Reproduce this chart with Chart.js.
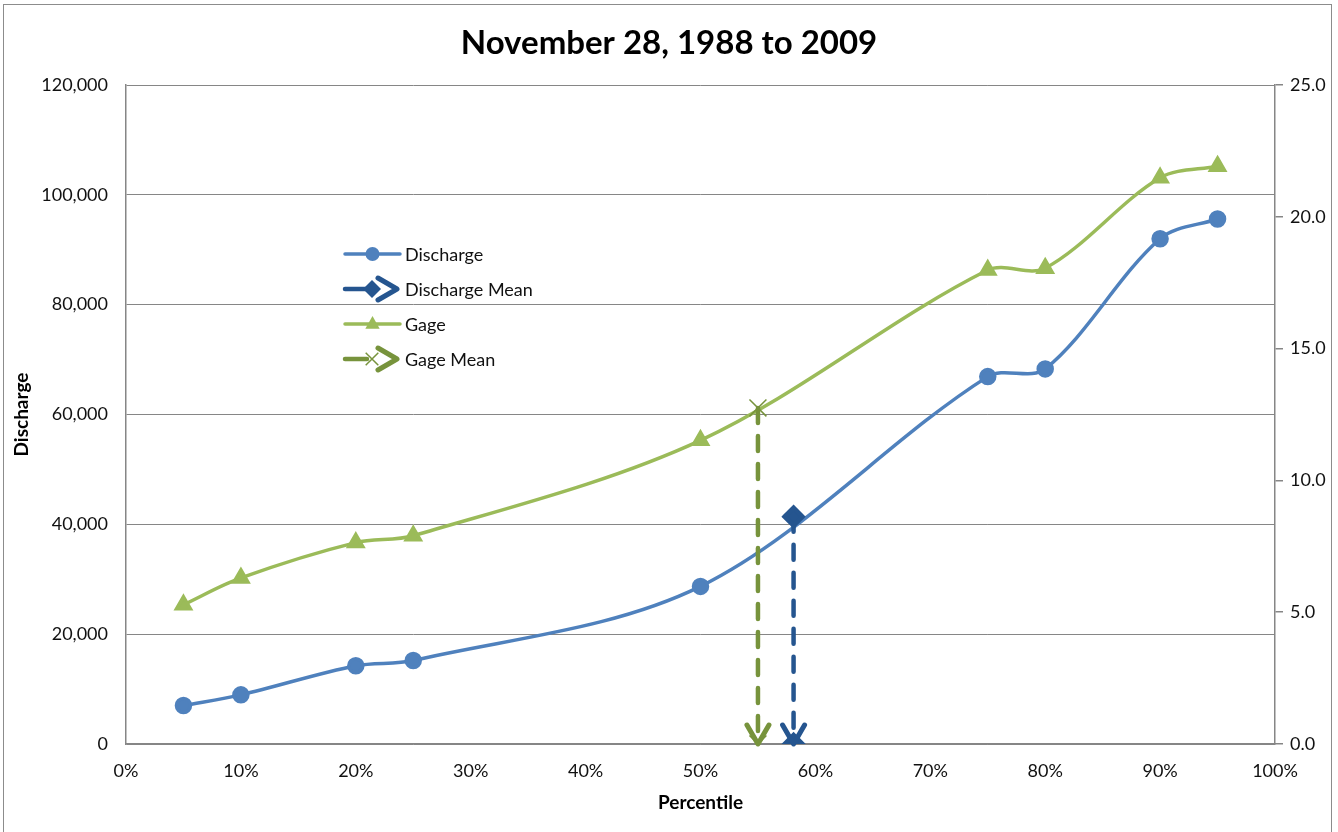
<!DOCTYPE html>
<html>
<head>
<meta charset="utf-8">
<script src="https://cdn.jsdelivr.net/npm/chart.js@4/dist/chart.umd.min.js"></script>
<style>
  html, body { margin: 0; padding: 0; background: #fff; }
  #wrap { width: 1338px; height: 832px; }
</style>
</head>
<body>
<div id="wrap"><canvas id="chart" width="1338" height="832"></canvas></div>
<script>
// Flow-duration values for November 28 (1988–2009)
const percentiles = [5, 10, 20, 25, 50, 75, 80, 90, 95];
const discharge   = [7000, 8950, 14250, 15200, 28700, 66900, 68300, 92000, 95600];
const gage        = [5.28, 6.30, 7.64, 7.90, 11.52, 17.98, 18.05, 21.48, 21.92];

// Means shown as vertical drop lines at their percentile
const dischargeMeanPct = 58.1;
const dischargeMean    = 41400;
const gageMeanPct      = 55.0;
const gageMean         = 12.75;

// Axis ranges and tick steps
const xTicks         = [0, 10, 20, 30, 40, 50, 60, 70, 80, 90, 100];
const dischargeTicks = [0, 20000, 40000, 60000, 80000, 100000, 120000];
const gageTicks      = [0, 5, 10, 15, 20, 25];

const FONT = 'Lato, "Open Sans", "Liberation Sans", sans-serif';
const GRID = '#868686';

const C_DIS  = '#4F81BD';
const C_DISM = '#25558F';
const C_GAGE = '#9BBB59';
const C_GAGM = '#77933C';

const toXY = (xs, ys) => xs.map((x, i) => ({ x, y: ys[i] }));

// Open chevron at the end of a drop line, pointing along the last segment
function drawChevron(ctx, tipX, tipY, dirX, dirY, color) {
  const len = 19, half = 11;
  const bx = tipX - dirX * len, by = tipY - dirY * len;
  const nx = -dirY, ny = dirX;
  ctx.save();
  ctx.strokeStyle = color;
  ctx.lineWidth = 5;
  ctx.lineCap = 'round';
  ctx.lineJoin = 'round';
  ctx.setLineDash([]);
  ctx.beginPath();
  ctx.moveTo(bx + nx * half, by + ny * half);
  ctx.lineTo(tipX, tipY);
  ctx.lineTo(bx - nx * half, by - ny * half);
  ctx.stroke();
  ctx.restore();
}

function drawMarker(ctx, style, x, y, r, color) {
  ctx.save();
  ctx.fillStyle = color;
  ctx.strokeStyle = color;
  ctx.lineWidth = 1.5;
  ctx.setLineDash([]);
  ctx.beginPath();
  if (style === 'circle') {
    ctx.arc(x, y, r, 0, Math.PI * 2);
    ctx.fill();
  } else if (style === 'rectRot') {
    ctx.moveTo(x, y - r); ctx.lineTo(x + r, y); ctx.lineTo(x, y + r); ctx.lineTo(x - r, y);
    ctx.closePath(); ctx.fill();
  } else if (style === 'triangle') {
    ctx.moveTo(x, y - r); ctx.lineTo(x + r * 0.9, y + r * 0.6); ctx.lineTo(x - r * 0.9, y + r * 0.6);
    ctx.closePath(); ctx.fill();
  } else if (style === 'crossRot') {
    const d = r * 0.7;
    ctx.moveTo(x - d, y - d); ctx.lineTo(x + d, y + d);
    ctx.moveTo(x + d, y - d); ctx.lineTo(x - d, y + d);
    ctx.stroke();
  }
  ctx.restore();
}

const frame = {
  id: 'frame',
  beforeDraw(chart) {
    const ctx = chart.ctx;
    ctx.save();
    ctx.fillStyle = '#fff';
    ctx.fillRect(0, 0, chart.width, chart.height);
    ctx.strokeStyle = '#8c8c8c';
    ctx.lineWidth = 1;
    ctx.strokeRect(3.5, 4.5, 1328, 860);
    ctx.restore();
  }
};

const arrowEnds = {
  id: 'arrowEnds',
  afterDatasetsDraw(chart) {
    chart.data.datasets.forEach((ds, i) => {
      if (!ds.arrowEnd) return;
      const pts = chart.getDatasetMeta(i).data;
      if (pts.length < 2) return;
      const a = pts[pts.length - 2], b = pts[pts.length - 1];
      const dx = b.x - a.x, dy = b.y - a.y;
      const L = Math.hypot(dx, dy) || 1;
      drawChevron(chart.ctx, b.x, b.y, dx / L, dy / L, ds.borderColor);
    });
  }
};

const inlineLegend = {
  id: 'inlineLegend',
  afterDraw(chart) {
    const ctx = chart.ctx;
    const x0 = 345, x1 = 400, tx = 405;
    const rows = [254, 289, 324, 359];
    chart.data.datasets.forEach((ds, i) => {
      const y = rows[i];
      ctx.save();
      ctx.strokeStyle = ds.borderColor;
      ctx.lineWidth = ds.arrowEnd ? 4.5 : 3.5;
      ctx.lineCap = 'round';
      ctx.beginPath();
      if (ds.arrowEnd) {
        ctx.moveTo(x0, y); ctx.lineTo(x0 + 22, y);
      } else {
        ctx.moveTo(x0, y); ctx.lineTo(x1, y);
      }
      ctx.stroke();
      ctx.restore();
      const mx = ds.arrowEnd ? 372 : (x0 + x1) / 2;
      const r = ds.pointStyle === 'crossRot' ? 9 : ds.pointRadius;
      drawMarker(ctx, ds.pointStyle, mx, y, r, ds.pointBackgroundColor);
      if (ds.arrowEnd) drawChevron(ctx, x1 - 3, y, 1, 0, ds.borderColor);
      ctx.save();
      ctx.fillStyle = '#111';
      ctx.font = '18px ' + FONT;
      ctx.textBaseline = 'middle';
      ctx.textAlign = 'left';
      ctx.fillText(ds.label, tx, y + 1);
      ctx.restore();
    });
  }
};

new Chart(document.getElementById('chart'), {
  type: 'line',
  data: {
    datasets: [
      {
        label: 'Discharge',
        data: toXY(percentiles, discharge),
        yAxisID: 'yQ',
        borderColor: C_DIS,
        backgroundColor: C_DIS,
        borderWidth: 3.5,
        tension: 0.33,
        pointStyle: 'circle',
        pointRadius: 7,
        pointBackgroundColor: C_DIS,
        pointBorderColor: C_DIS,
        order: 4
      },
      {
        label: 'Discharge Mean',
        data: toXY([dischargeMeanPct, dischargeMeanPct], [dischargeMean, 0]),
        yAxisID: 'yQ',
        borderColor: C_DISM,
        backgroundColor: C_DISM,
        borderWidth: 4.5,
        borderDash: [15, 13],
        borderCapStyle: 'round',
        pointStyle: 'rectRot',
        pointRadius: 9,
        pointBackgroundColor: C_DISM,
        pointBorderColor: C_DISM,
        arrowEnd: true,
        order: 3
      },
      {
        label: 'Gage',
        data: toXY(percentiles, gage),
        yAxisID: 'yG',
        borderColor: C_GAGE,
        backgroundColor: C_GAGE,
        borderWidth: 3.5,
        tension: 0.33,
        pointStyle: 'triangle',
        pointRadius: 8,
        pointBackgroundColor: C_GAGE,
        pointBorderColor: C_GAGE,
        order: 2
      },
      {
        label: 'Gage Mean',
        data: toXY([gageMeanPct, gageMeanPct], [gageMean, 0]),
        yAxisID: 'yG',
        borderColor: C_GAGM,
        backgroundColor: C_GAGM,
        borderWidth: 4.5,
        borderDash: [15, 13],
        borderCapStyle: 'round',
        pointStyle: 'crossRot',
        pointRadius: 12,
        pointBorderWidth: 1.5,
        pointBackgroundColor: C_GAGM,
        pointBorderColor: C_GAGM,
        arrowEnd: true,
        order: 1
      }
    ]
  },
  options: {
    responsive: false,
    devicePixelRatio: 1,
    animation: false,
    layout: { padding: 0 },
    plugins: {
      legend: { display: false },
      tooltip: { enabled: false },
      title: {
        display: true,
        text: 'November 28, 1988 to 2009',
        color: '#000',
        font: { family: FONT, size: 33, weight: 'bold', lineHeight: 1.2 },
        padding: { top: 24, bottom: 21.4 }
      }
    },
    scales: {
      x: {
        type: 'linear',
        min: xTicks[0],
        max: xTicks[xTicks.length - 1],
        afterFit(s) { s.height = 88; },
        afterBuildTicks(s) { s.ticks = xTicks.map(v => ({ value: v })); },
        ticks: {
          color: '#111',
          font: { family: FONT, size: 18 },
          padding: 16,
          maxRotation: 0,
          callback: v => v + '%'
        },
        grid: { display: false, drawTicks: false },
        border: { display: true, color: GRID, width: 1.5 },
        title: {
          display: true,
          text: 'Percentile',
          color: '#000',
          font: { family: FONT, size: 19, weight: 'bold', lineHeight: 1.2 },
          padding: { top: 0, bottom: 17.5 }
        }
      },
      yQ: {
        type: 'linear',
        position: 'left',
        min: dischargeTicks[0],
        max: dischargeTicks[dischargeTicks.length - 1],
        afterFit(s) { s.width = 126; },
        afterBuildTicks(s) { s.ticks = dischargeTicks.map(v => ({ value: v })); },
        ticks: {
          color: '#111',
          font: { family: FONT, size: 18 },
          padding: 18,
          callback: v => v.toLocaleString('en-US')
        },
        grid: { color: GRID, lineWidth: 1, drawTicks: false },
        border: { display: true, color: GRID, width: 1.5 },
        title: {
          display: true,
          text: 'Discharge',
          color: '#000',
          font: { family: FONT, size: 19, weight: 'bold', lineHeight: 1.2 },
          padding: { top: 10.5, bottom: 0 }
        }
      },
      yG: {
        type: 'linear',
        position: 'right',
        min: gageTicks[0],
        max: gageTicks[gageTicks.length - 1],
        afterFit(s) { s.width = 63; },
        afterBuildTicks(s) { s.ticks = gageTicks.map(v => ({ value: v })); },
        ticks: {
          color: '#111',
          font: { family: FONT, size: 18 },
          padding: 7,
          callback: v => v.toFixed(1)
        },
        grid: { drawOnChartArea: false, drawTicks: true, tickLength: 8, color: GRID, lineWidth: 1.5 },
        border: { display: true, color: GRID, width: 1.5 }
      }
    }
  },
  plugins: [frame, arrowEnds, inlineLegend]
});
</script>
</body>
</html>
